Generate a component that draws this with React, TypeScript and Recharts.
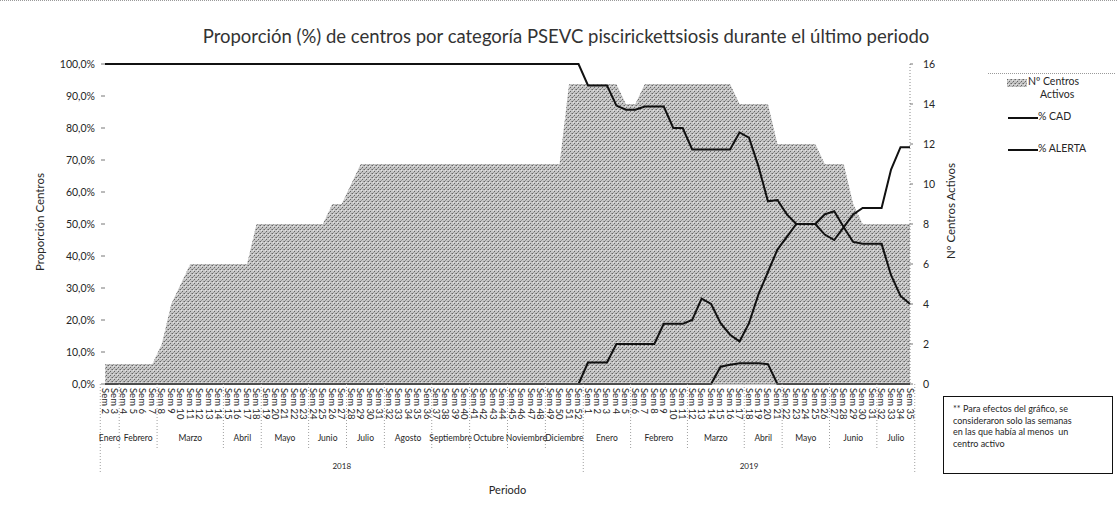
import React from "react";
import { ComposedChart, Area, Line, XAxis, YAxis, Legend, Label } from "recharts";

// ---------- Data ----------
const semanas2018 = [
  "Sem 2", "Sem 3", "Sem 4", "Sem 5", "Sem 6", "Sem 7", "Sem 8", "Sem 9", "Sem 10", "Sem 11",
  "Sem 12", "Sem 13", "Sem 14", "Sem 15", "Sem 16", "Sem 17", "Sem 18", "Sem 19", "Sem 20", "Sem 21",
  "Sem 22", "Sem 23", "Sem 24", "Sem 25", "Sem 26", "Sem 27", "Sem 28", "Sem 29", "Sem 30", "Sem 31",
  "Sem 32", "Sem 33", "Sem 34", "Sem 35", "Sem 36", "Sem 37", "Sem 38", "Sem 39", "Sem 40", "Sem 41",
  "Sem 42", "Sem 43", "Sem 44", "Sem 45", "Sem 46", "Sem 47", "Sem 48", "Sem 49", "Sem 50", "Sem 51",
  "Sem 52",
];
const semanas2019 = [
  "Sem 1", "Sem 2", "Sem 3", "Sem 4", "Sem 5", "Sem 6", "Sem 7", "Sem 8", "Sem 9", "Sem 10",
  "Sem 11", "Sem 12", "Sem 13", "Sem 14", "Sem 15", "Sem 16", "Sem 17", "Sem 18", "Sem 19", "Sem 20",
  "Sem 21", "Sem 22", "Sem 23", "Sem 24", "Sem 25", "Sem 26", "Sem 27", "Sem 28", "Sem 29", "Sem 30",
  "Sem 31", "Sem 32", "Sem 33", "Sem 34", "Sem 35",
];
const meses2018 = ["Enero", "Febrero", "Marzo", "Abril", "Mayo", "Junio", "Julio", "Agosto", "Septiembre", "Octubre", "Noviembre", "Diciembre"];
const semanasPorMes2018 = [2, 4, 7, 4, 5, 4, 4, 5, 4, 4, 4, 4];
const meses2019 = ["Enero", "Febrero", "Marzo", "Abril", "Mayo", "Junio", "Julio"];
const semanasPorMes2019 = [5, 6, 6, 4, 5, 5, 4];
const anios = ["2018", "2019"];

const centrosActivos = [
  1, 1, 1, 1, 1, 1, 2, 4, 5, 6,
  6, 6, 6, 6, 6, 6, 8, 8, 8, 8,
  8, 8, 8, 8, 9, 9, 10, 11, 11, 11,
  11, 11, 11, 11, 11, 11, 11, 11, 11, 11,
  11, 11, 11, 11, 11, 11, 11, 11, 11, 15,
  15, 15, 15, 15, 15, 14, 14, 15, 15, 15,
  15, 15, 15, 15, 15, 15, 15, 14, 14, 14,
  14, 12, 12, 12, 12, 12, 11, 11, 11, 9,
  8, 8, 8, 8, 8, 8,
];
const pctCAD = [
  100, 100, 100, 100, 100, 100, 100, 100, 100, 100,
  100, 100, 100, 100, 100, 100, 100, 100, 100, 100,
  100, 100, 100, 100, 100, 100, 100, 100, 100, 100,
  100, 100, 100, 100, 100, 100, 100, 100, 100, 100,
  100, 100, 100, 100, 100, 100, 100, 100, 100, 100,
  100, 93.3, 93.3, 93.3, 87, 85.7, 85.7, 86.7, 86.7, 86.7,
  80, 80, 73.3, 73.3, 73.3, 73.3, 73.3, 78.6, 77, 68,
  57.1, 57.5, 53, 50, 50, 50, 46.7, 45, 49, 44.4,
  43.8, 43.8, 43.8, 34, 27.5, 25,
];
const pctAlerta = [
  0, 0, 0, 0, 0, 0, 0, 0, 0, 0,
  0, 0, 0, 0, 0, 0, 0, 0, 0, 0,
  0, 0, 0, 0, 0, 0, 0, 0, 0, 0,
  0, 0, 0, 0, 0, 0, 0, 0, 0, 0,
  0, 0, 0, 0, 0, 0, 0, 0, 0, 0,
  0, 6.7, 6.7, 6.7, 12.5, 12.5, 12.5, 12.5, 12.5, 18.8,
  18.8, 18.8, 20, 26.7, 25, 19, 15.4, 13.3, 19, 28,
  35, 42, 46, 50, 50, 50, 53, 54, 49, 53,
  55, 55, 55, 67, 74, 74,
];
const pctSerie3 = [
  0, 0, 0, 0, 0, 0, 0, 0, 0, 0,
  0, 0, 0, 0, 0, 0, 0, 0, 0, 0,
  0, 0, 0, 0, 0, 0, 0, 0, 0, 0,
  0, 0, 0, 0, 0, 0, 0, 0, 0, 0,
  0, 0, 0, 0, 0, 0, 0, 0, 0, 0,
  0, 0, 0, 0, 0, 0, 0, 0, 0, 0,
  0, 0, 0, 0, 0, 5.4, 6, 6.5, 6.5, 6.5,
  6.2, 0, 0, 0, 0, 0, 0, 0, 0, 0,
  0, 0, 0, 0, 0, 0,
];
const ticksPct = [0, 10, 20, 30, 40, 50, 60, 70, 80, 90, 100];
const ticksCentros = [0, 2, 4, 6, 8, 10, 12, 14, 16];

// ---------- Derived tables ----------
const semanas = [...semanas2018, ...semanas2019];
const data = semanas.map((s, i) => ({
  semana: s,
  centros: centrosActivos[i],
  cad: pctCAD[i],
  alerta: pctAlerta[i],
  serie3: pctSerie3[i],
}));

type Group = { label: string; start: number; count: number };
const monthGroups: Group[] = [];
const yearGroups: Group[] = [];
{
  let idx = 0;
  const pushYear = (names: string[], counts: number[], year: string) => {
    const ys = idx;
    names.forEach((m, k) => {
      monthGroups.push({ label: m, start: idx, count: counts[k] });
      idx += counts[k];
    });
    yearGroups.push({ label: year, start: ys, count: idx - ys });
  };
  pushYear(meses2018, semanasPorMes2018, anios[0]);
  pushYear(meses2019, semanasPorMes2019, anios[1]);
}

// ---------- Layout ----------
const W = 1117;
const H = 508;
const PLOT_LEFT = 105;
const PLOT_RIGHT = 910;
const STEP = (PLOT_RIGHT - PLOT_LEFT) / (semanas.length - 1);
const FONT = "Lato, 'Open Sans', sans-serif";
const TXT = "#262626";

function WeekTick(props: any) {
  const { x, y, payload } = props;
  const i: number = typeof props.index === "number" ? props.index : payload.index;
  const els: React.ReactNode[] = [];
  els.push(
    <text key="w" x={x} y={y} transform={`rotate(90 ${x} ${y})`} fontSize={9.5} fill={TXT}
      fontFamily={FONT} dominantBaseline="central" textAnchor="start">
      {payload.value}
    </text>
  );
  monthGroups.forEach((g, k) => {
    const isYearStart = yearGroups.some((yg) => yg.start === g.start);
    if (g.start === i) {
      els.push(
        <line key={"ms" + k} x1={x - STEP / 2} x2={x - STEP / 2} y1={y - 4} y2={y + (isYearStart ? 86 : 62)}
          stroke="#a0a0a0" strokeDasharray="1 2" />
      );
    }
    if (g.start + g.count - 1 === i && i === semanas.length - 1) {
      els.push(
        <line key={"me" + k} x1={x + STEP / 2} x2={x + STEP / 2} y1={y - 4} y2={y + 86}
          stroke="#a0a0a0" strokeDasharray="1 2" />
      );
    }
    const c = g.start + (g.count - 1) / 2;
    if (Math.floor(c) === i) {
      els.push(
        <text key={"ml" + k} x={x + (c - i) * STEP} y={y + 50} fontSize={8.5} fill={TXT} fontFamily={FONT}
          textAnchor="middle" dominantBaseline="central">
          {g.label}
        </text>
      );
    }
  });
  yearGroups.forEach((g, k) => {
    const c = g.start + (g.count - 1) / 2;
    if (Math.floor(c) === i) {
      els.push(
        <text key={"yl" + k} x={x + (c - i) * STEP} y={y + 78} fontSize={8} fill={TXT} fontFamily={FONT}
          textAnchor="middle" dominantBaseline="central">
          {g.label}
        </text>
      );
    }
  });
  return <g>{els}</g>;
}

const fmtPct = (v: number) => v.toFixed(1).replace(".", ",") + "%";

function PatternDef({ id }: { id: string }) {
  return (
    <pattern id={id} width="4" height="4" patternUnits="userSpaceOnUse">
      <rect width="4" height="4" fill="#c6c6c6" />
      <rect x="0" y="0" width="1" height="1" fill="#666" />
      <rect x="2" y="2" width="1" height="1" fill="#666" />
      <rect x="3" y="0" width="1" height="1" fill="#969696" />
      <rect x="1" y="3" width="1" height="1" fill="#969696" />
      <rect x="1" y="1" width="1" height="1" fill="#e4e4e4" />
    </pattern>
  );
}

function LegendContent(props: any) {
  const payload: any[] = (props.payload || []).filter((p: any) => p.type !== "none");
  const area = payload.find((p) => p.dataKey === "centros");
  const order = ["cad", "alerta"];
  const lines = order.map((k) => payload.find((p) => p.dataKey === k)).filter(Boolean) as any[];
  const areaName: string = area ? String(area.value) : "";
  const parts = areaName.split(" ");
  const first = parts.slice(0, 2).join(" ");
  const rest = parts.slice(2).join(" ");
  return (
    <div style={{ position: "relative", width: 127, height: 104, fontFamily: FONT, fontSize: 10.5, color: TXT,
      borderTop: "1px dotted #9a9a9a" }}>
      <div style={{ position: "absolute", left: 19, top: 5 }}>
        <svg width={20} height={8} style={{ display: "block" }}>
          <defs><PatternDef id="legendHatch" /></defs>
          <rect width={20} height={8} fill="url(#legendHatch)" />
        </svg>
      </div>
      <div style={{ position: "absolute", left: 40, top: 1, whiteSpace: "nowrap" }}>{first}</div>
      <div style={{ position: "absolute", left: 52, top: 14, whiteSpace: "nowrap" }}>{rest}</div>
      {lines.map((p, k) => (
        <React.Fragment key={k}>
          <div style={{ position: "absolute", left: 20, top: 43 + k * 32, width: 30, height: 2, background: "#111" }} />
          <div style={{ position: "absolute", left: 50, top: 36 + k * 32, whiteSpace: "nowrap" }}>{p.value}</div>
        </React.Fragment>
      ))}
    </div>
  );
}

export default function App() {
  return (
    <div style={{ position: "absolute", left: 0, top: 0, width: W, height: H, background: "#fff",
      fontFamily: FONT, borderTop: "1px dotted #9a9a9a", boxSizing: "border-box" }}>
      <div style={{ position: "absolute", left: 0, width: W, top: 24, textAlign: "center", fontSize: 18.5,
        color: "#333", fontFamily: FONT, paddingLeft: 15, boxSizing: "border-box", whiteSpace: "nowrap" }}>
        Proporción (%) de centros por categoría PSEVC piscirickettsiosis durante el último periodo
      </div>
      <ComposedChart width={W} height={H - 1} data={data}
        margin={{ top: 63, right: W - PLOT_RIGHT - 60, bottom: 0, left: 8 }}>
        <defs>
          <PatternDef id="hatchArea" />
        </defs>
        <XAxis dataKey="semana" interval={0} height={124} tickSize={2} tickMargin={2} tickLine={false}
          axisLine={{ stroke: "#8a8a8a" }} tick={(p: any) => <WeekTick {...p} />}>
          <Label value="Periodo" position="insideBottom" offset={14} fontSize={11} fill={TXT} fontFamily={FONT} />
        </XAxis>
        <YAxis yAxisId="left" width={97} domain={[0, 100]} ticks={ticksPct} tickFormatter={fmtPct}
          tick={{ fontSize: 10.5, fill: TXT, fontFamily: FONT }} tickSize={4} tickMargin={6}
          tickLine={{ stroke: "#777" }} axisLine={false} interval={0}>
          <Label content={(lp: any) => {
            const vb = lp.viewBox;
            const cx = vb.x + 31;
            const cy = 221;
            return (
              <text x={cx} y={cy} transform={`rotate(-90 ${cx} ${cy})`} textAnchor="middle"
                dominantBaseline="central" fontSize={11.5} fill={TXT} fontFamily={FONT}>
                Proporción Centros
              </text>
            );
          }} />
        </YAxis>
        <YAxis yAxisId="right" orientation="right" width={60} domain={[0, 16]} ticks={ticksCentros}
          tick={{ fontSize: 10.5, fill: TXT, fontFamily: FONT }} tickSize={3} tickMargin={10}
          tickLine={{ stroke: "#777" }} axisLine={{ stroke: "#8a8a8a", strokeDasharray: "1 2" }} interval={0}>
          <Label content={(lp: any) => {
            const vb = lp.viewBox;
            const cx = vb.x + 40;
            const cy = 210;
            return (
              <text x={cx} y={cy} transform={`rotate(-90 ${cx} ${cy})`} textAnchor="middle"
                dominantBaseline="central" fontSize={11.5} fill={TXT} fontFamily={FONT}>
                Nº Centros Activos
              </text>
            );
          }} />
        </YAxis>
        <Legend layout="horizontal" verticalAlign="middle" align="center" content={(p: any) => <LegendContent {...p} />}
          wrapperStyle={{ left: 988, top: 72, width: 127, height: 104 }} />
        <Area yAxisId="right" type="linear" dataKey="centros" name="Nº Centros Activos" fill="url(#hatchArea)"
          fillOpacity={1} stroke="none" isAnimationActive={false} />
        <Line yAxisId="left" type="linear" dataKey="cad" name="% CAD" stroke="#111" strokeWidth={2}
          dot={false} activeDot={false} isAnimationActive={false} />
        <Line yAxisId="left" type="linear" dataKey="alerta" name="% ALERTA" stroke="#111" strokeWidth={2}
          dot={false} activeDot={false} isAnimationActive={false} />
        <Line yAxisId="left" type="linear" dataKey="serie3" name="% Serie 3" legendType="none" stroke="#111"
          strokeWidth={2} dot={false} activeDot={false} isAnimationActive={false} />
      </ComposedChart>
      <div style={{ position: "absolute", left: 943, top: 395, width: 170, height: 78, border: "1px solid #111",
        boxSizing: "border-box", padding: "6px 0 0 9px", fontSize: 9, lineHeight: "11.5px", color: TXT,
        fontFamily: FONT }}>
        ** Para efectos del gráfico, se<br />
        consideraron solo las semanas<br />
        en las que había al menos&nbsp; un<br />
        centro activo
      </div>
    </div>
  );
}
